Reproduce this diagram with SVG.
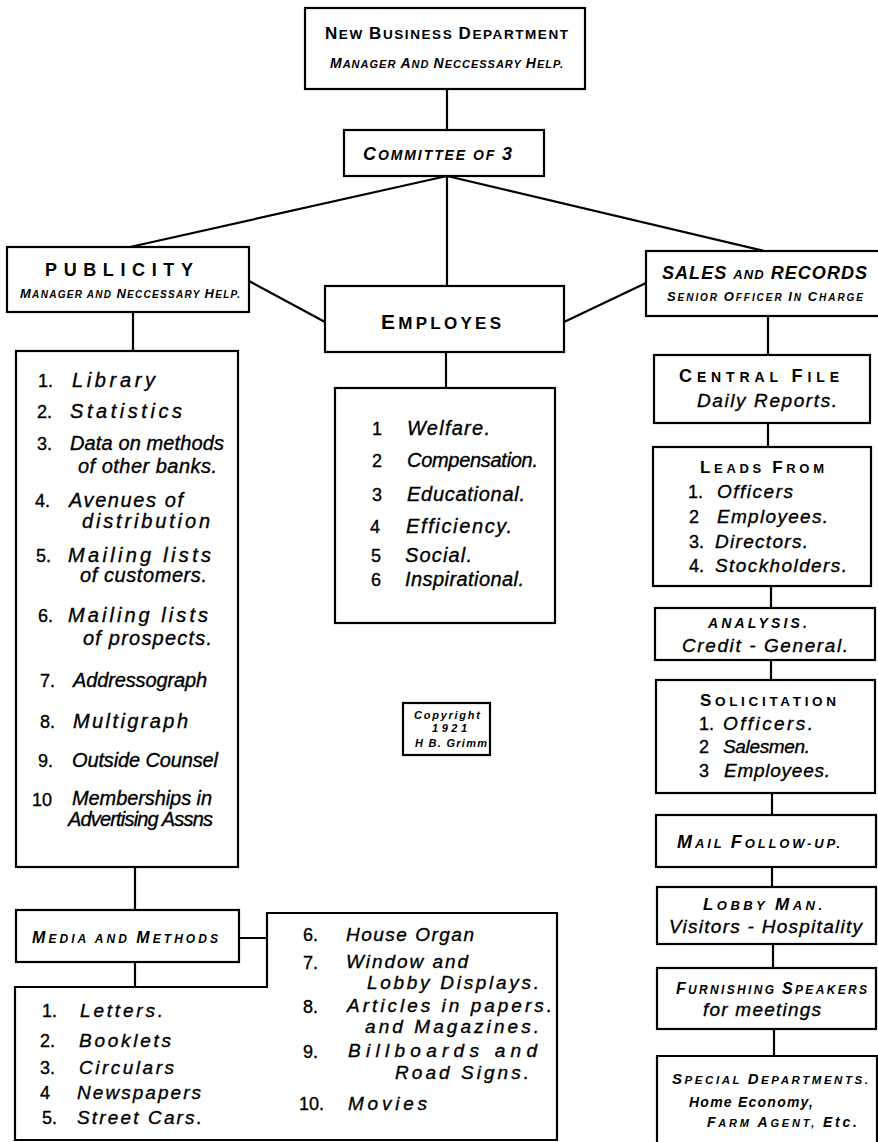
<svg xmlns="http://www.w3.org/2000/svg" width="878" height="1142" viewBox="0 0 878 1142">
<style>
.b{fill:none;stroke:#000;stroke-width:2.2}
.c{fill:none;stroke:#000;stroke-width:2.2}
text{font-family:"Liberation Sans","DejaVu Sans",sans-serif;fill:#000;stroke:#000;stroke-width:0.35}
.h{font-weight:bold;stroke-width:0}
.hi{font-weight:bold;font-style:italic;stroke-width:0}
.i{font-style:italic;font-size:20px}
.n{font-size:18px}
.r{font-style:italic;font-size:19px}
.cp{font-weight:bold;font-style:italic;font-size:11px;stroke-width:0}
</style>
<rect width="878" height="1142" fill="#fff"/>
<g id="connectors">
<path class="c" d="M447,89 V130 M447,176 L130,247 M447,176 V286 M447,176 L764,251 M249,281 L325,322 M564,322 L646,283 M133,313 V351 M446,352 V388 M768,316 V355 M768,423 V447 M771,586 V608 M771,660 V680 M772,793 V815 M772,867 V887 M773,944 V968 M774,1029 V1057 M135,867 V910 M239,938 H267 M135,962 V987"/>
</g>
<g id="new-business">
<rect class="b" x="305" y="8" width="280" height="81"/>
<text class="h" x="325" y="39" font-size="13.5" textLength="243" lengthAdjust="spacing"><tspan font-size="17">N</tspan>EW <tspan font-size="17">B</tspan>USINESS <tspan font-size="17">D</tspan>EPARTMENT</text>
<text class="hi" x="330" y="68" font-size="11" textLength="233" lengthAdjust="spacing"><tspan font-size="14">M</tspan>ANAGER <tspan font-size="14">A</tspan>ND <tspan font-size="14">N</tspan>ECCESSARY <tspan font-size="14">H</tspan>ELP.</text>
</g>
<g id="committee">
<rect class="b" x="344" y="130" width="200" height="46"/>
<text class="hi" x="363" y="160" font-size="14" textLength="149" lengthAdjust="spacing"><tspan font-size="18">C</tspan>OMMITTEE OF <tspan font-size="18">3</tspan></text>
</g>
<g id="publicity">
<rect class="b" x="7" y="247" width="242" height="65"/>
<text class="h" x="45" y="276" font-size="18" textLength="148" lengthAdjust="spacing">PUBLICITY</text>
<text class="hi" x="20" y="298" font-size="10" textLength="220" lengthAdjust="spacing"><tspan font-size="13">M</tspan>ANAGER AND <tspan font-size="13">N</tspan>ECCESSARY <tspan font-size="13">H</tspan>ELP.</text>
</g>
<g id="employes">
<rect class="b" x="325" y="286" width="239" height="66"/>
<text class="h" x="381" y="329" font-size="17" textLength="120" lengthAdjust="spacing"><tspan font-size="21">E</tspan>MPLOYES</text>
</g>
<g id="sales">
<rect class="b" x="646" y="251" width="240" height="65"/>
<text class="hi" x="662" y="279" font-size="18" textLength="205" lengthAdjust="spacing">SALES <tspan font-size="13">AND</tspan> RECORDS</text>
<text class="hi" x="667" y="301" font-size="10" textLength="196" lengthAdjust="spacing"><tspan font-size="13">S</tspan>ENIOR <tspan font-size="13">O</tspan>FFICER <tspan font-size="13">I</tspan>N <tspan font-size="13">C</tspan>HARGE</text>
</g>
<g id="publicity-list">
<rect class="b" x="16" y="351" width="222" height="516"/>
<text class="n" x="38" y="387">1.</text><text class="i" x="72" y="387" textLength="83" lengthAdjust="spacing">Library</text>
<text class="n" x="37" y="418">2.</text><text class="i" x="70" y="418" textLength="112" lengthAdjust="spacing" font-style="normal">Statistics</text>
<text class="n" x="37" y="450">3.</text><text class="i" x="70" y="450" textLength="154" lengthAdjust="spacing">Data on methods</text>
<text class="i" x="78" y="473" textLength="139" lengthAdjust="spacing">of other banks.</text>
<text class="n" x="35" y="507">4.</text><text class="i" x="69" y="507" textLength="114" lengthAdjust="spacing">Avenues of</text>
<text class="i" x="82" y="528" textLength="128" lengthAdjust="spacing">distribution</text>
<text class="n" x="36" y="562">5.</text><text class="i" x="68" y="562" textLength="143" lengthAdjust="spacing">Mailing lists</text>
<text class="i" x="80" y="582" textLength="127" lengthAdjust="spacing">of customers.</text>
<text class="n" x="38" y="622">6.</text><text class="i" x="68" y="622" textLength="140" lengthAdjust="spacing">Mailing lists</text>
<text class="i" x="83" y="645" textLength="129" lengthAdjust="spacing">of prospects.</text>
<text class="n" x="40" y="687">7.</text><text class="i" x="73" y="687" textLength="134" lengthAdjust="spacing">Addressograph</text>
<text class="n" x="40" y="728">8.</text><text class="i" x="73" y="728" textLength="115" lengthAdjust="spacing">Multigraph</text>
<text class="n" x="38" y="767">9.</text><text class="i" x="72" y="767" textLength="146" lengthAdjust="spacing">Outside Counsel</text>
<text class="n" x="32" y="806">10</text><text class="i" x="72" y="805" textLength="140" lengthAdjust="spacing">Memberships in</text>
<text class="i" x="68" y="826" font-size="19" textLength="145" lengthAdjust="spacing">Advertising Assns</text>
</g>
<g id="employes-list">
<rect class="b" x="335" y="388" width="220" height="235"/>
<text class="n" x="372" y="435">1</text><text class="i" x="407" y="435" textLength="83" lengthAdjust="spacing">Welfare.</text>
<text class="n" x="372" y="467">2</text><text class="i" x="407" y="467" textLength="131" lengthAdjust="spacing">Compensation.</text>
<text class="n" x="372" y="501">3</text><text class="i" x="407" y="501" textLength="118" lengthAdjust="spacing">Educational.</text>
<text class="n" x="370" y="533">4</text><text class="i" x="406" y="533" textLength="106" lengthAdjust="spacing">Efficiency.</text>
<text class="n" x="371" y="562">5</text><text class="i" x="405" y="562" textLength="67" lengthAdjust="spacing">Social.</text>
<text class="n" x="371" y="586">6</text><text class="i" x="405" y="586" textLength="119" lengthAdjust="spacing">Inspirational.</text>
</g>
<g id="copyright">
<rect class="b" x="403" y="703" width="87" height="52"/>
<text class="cp" x="414" y="719" textLength="66" lengthAdjust="spacing">Copyright</text>
<text class="cp" x="432" y="732" textLength="35" lengthAdjust="spacing">1921</text>
<text class="cp" x="415" y="747" font-size="9.5" textLength="72" lengthAdjust="spacing">H B. Grimm</text>
</g>
<g id="central-file">
<rect class="b" x="654" y="355" width="216" height="68"/>
<text class="h" x="679" y="382" font-size="14" textLength="160" lengthAdjust="spacing"><tspan font-size="18">C</tspan>ENTRAL <tspan font-size="18">F</tspan>ILE</text>
<text class="r" x="697" y="407" textLength="140" lengthAdjust="spacing">Daily Reports.</text>
</g>
<g id="leads-from">
<rect class="b" x="653" y="447" width="218" height="139"/>
<text class="h" x="700" y="473" font-size="13" textLength="124" lengthAdjust="spacing"><tspan font-size="17">L</tspan>EADS <tspan font-size="17">F</tspan>ROM</text>
<text class="n" x="688" y="498">1.</text><text class="r" x="717" y="498" textLength="76" lengthAdjust="spacing">Officers</text>
<text class="n" x="689" y="523">2</text><text class="r" x="717" y="523" textLength="111" lengthAdjust="spacing">Employees.</text>
<text class="n" x="689" y="548">3.</text><text class="r" x="715" y="548" textLength="93" lengthAdjust="spacing">Directors.</text>
<text class="n" x="689" y="572">4.</text><text class="r" x="715" y="572" textLength="132" lengthAdjust="spacing" font-style="normal">Stockholders.</text>
</g>
<g id="analysis">
<rect class="b" x="655" y="608" width="220" height="52"/>
<text class="hi" x="708" y="628" font-size="14" textLength="99" lengthAdjust="spacing">ANALYSIS.</text>
<text class="r" x="682" y="652" textLength="166" lengthAdjust="spacing">Credit - General.</text>
</g>
<g id="solicitation">
<rect class="b" x="656" y="680" width="219" height="113"/>
<text class="h" x="700" y="706" font-size="13.5" textLength="136" lengthAdjust="spacing"><tspan font-size="17">S</tspan>OLICITATION</text>
<text class="n" x="699" y="730">1.</text><text class="r" x="723" y="730" textLength="90" lengthAdjust="spacing">Officers.</text>
<text class="n" x="699" y="753">2</text><text class="r" x="723" y="753" textLength="87" lengthAdjust="spacing">Salesmen.</text>
<text class="n" x="699" y="777">3</text><text class="r" x="724" y="777" textLength="106" lengthAdjust="spacing">Employees.</text>
</g>
<g id="mail-follow-up">
<rect class="b" x="656" y="815" width="220" height="52"/>
<text class="hi" x="677" y="848" font-size="13" textLength="163" lengthAdjust="spacing"><tspan font-size="18">M</tspan>AIL <tspan font-size="18">F</tspan>OLLOW-UP.</text>
</g>
<g id="lobby-man">
<rect class="b" x="657" y="887" width="219" height="57"/>
<text class="hi" x="703" y="910" font-size="13" textLength="119" lengthAdjust="spacing"><tspan font-size="17">L</tspan>OBBY <tspan font-size="17">M</tspan>AN.</text>
<text class="r" x="669" y="933" textLength="193" lengthAdjust="spacing">Visitors - Hospitality</text>
</g>
<g id="furnishing-speakers">
<rect class="b" x="657" y="968" width="219" height="61"/>
<text class="hi" x="676" y="994" font-size="12" textLength="191" lengthAdjust="spacing"><tspan font-size="16">F</tspan>URNISHING <tspan font-size="16">S</tspan>PEAKERS</text>
<text class="r" x="703" y="1016" textLength="118" lengthAdjust="spacing">for meetings</text>
</g>
<g id="special-departments">
<path class="b" d="M657,1143 V1056 H877 V1143"/>
<text class="hi" x="672" y="1084" font-size="11.5" textLength="196" lengthAdjust="spacing"><tspan font-size="15">S</tspan>PECIAL <tspan font-size="15">D</tspan>EPARTMENTS.</text>
<text class="hi" x="689" y="1107" font-size="14" textLength="124" lengthAdjust="spacing">Home Economy,</text>
<text class="hi" x="707" y="1127" font-size="11" textLength="150" lengthAdjust="spacing"><tspan font-size="14">F</tspan>ARM <tspan font-size="14">A</tspan>GENT, <tspan font-size="14">Etc.</tspan></text>
</g>
<g id="media-methods">
<rect class="b" x="16" y="910" width="223" height="52"/>
<text class="hi" x="32" y="943" font-size="12" textLength="186" lengthAdjust="spacing"><tspan font-size="16">M</tspan>EDIA AND <tspan font-size="16">M</tspan>ETHODS</text>
</g>
<g id="media-list">
<path class="b" d="M15,987 H267 V913 H557 V1140 H15 Z"/>
<text class="n" x="42" y="1017">1.</text><text class="r" x="80" y="1017" textLength="83" lengthAdjust="spacing">Letters.</text>
<text class="n" x="40" y="1047">2.</text><text class="r" x="79" y="1047" textLength="92" lengthAdjust="spacing">Booklets</text>
<text class="n" x="40" y="1074">3.</text><text class="r" x="79" y="1074" textLength="95" lengthAdjust="spacing">Circulars</text>
<text class="n" x="40" y="1099">4</text><text class="r" x="77" y="1099" textLength="124" lengthAdjust="spacing">Newspapers</text>
<text class="n" x="42" y="1124">5.</text><text class="r" x="77" y="1124" textLength="125" lengthAdjust="spacing">Street Cars.</text>
<text class="n" x="303" y="941">6.</text><text class="r" x="346" y="941" font-size="20" textLength="128" lengthAdjust="spacing">House Organ</text>
<text class="n" x="303" y="969">7.</text><text class="r" x="346" y="968" font-size="20" textLength="122" lengthAdjust="spacing">Window and</text>
<text class="r" x="367" y="989" font-size="20" textLength="172" lengthAdjust="spacing">Lobby Displays.</text>
<text class="n" x="303" y="1013">8.</text><text class="r" x="347" y="1012" textLength="205" lengthAdjust="spacing">Articles in papers.</text>
<text class="r" x="365" y="1033" textLength="174" lengthAdjust="spacing">and Magazines.</text>
<text class="n" x="303" y="1058">9.</text><text class="r" x="348" y="1057" font-size="20" textLength="189" lengthAdjust="spacing">Billboards and</text>
<text class="r" x="395" y="1079" font-size="20" textLength="134" lengthAdjust="spacing">Road Signs.</text>
<text class="n" x="299" y="1110">10.</text><text class="r" x="348" y="1110" font-size="20" textLength="79" lengthAdjust="spacing">Movies</text>
</g>
</svg>
